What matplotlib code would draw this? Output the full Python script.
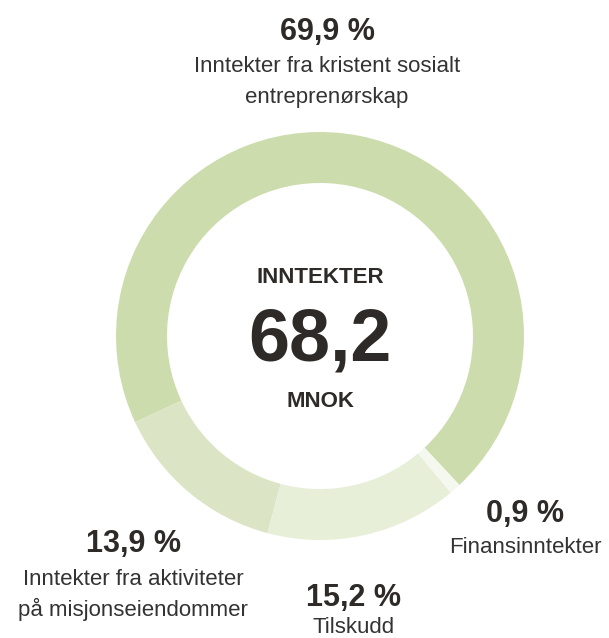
import matplotlib
matplotlib.use("Agg")
from matplotlib import pyplot as plt

# shares in percent, in the order they are drawn (counter clockwise)
shares = [69.9, 13.9, 15.2, 0.9]
share_text = ["69,9 %", "13,9 %", "15,2 %", "0,9 %"]
names = ["Inntekter fra kristent sosialt\nentreprenørskap",
         "Inntekter fra aktiviteter\npå misjonseiendommer",
         "Tilskudd",
         "Finansinntekter"]
colors = ["#cddcad", "#dbe5c5", "#e8efd9", "#f5f8ee"]

total_label = "INNTEKTER"
total_value = "68,2"
total_unit = "MNOK"

ink = "#2d2a27"
W, H = 609, 638

fig = plt.figure(figsize=(W / 100, H / 100), dpi=100)
ax = fig.add_axes([0, 0, 1, 1])

ax.pie(shares, colors=colors, startangle=-46.9, counterclock=True,
       center=(320, H - 336), radius=204,
       wedgeprops=dict(width=51, linewidth=0), frame=True)
ax.set_xlim(0, W)
ax.set_ylim(0, H)
ax.axis("off")

# centre text
ax.text(320, H - 283, total_label, ha="center", va="baseline",
        fontsize=16, fontweight="bold", color=ink, family="Liberation Sans")
ax.text(320, H - 360, total_value, ha="center", va="baseline",
        fontsize=53, fontweight="bold", color=ink, family="Liberation Sans")
ax.text(321, H - 407, total_unit, ha="center", va="baseline",
        fontsize=16, fontweight="bold", color=ink, family="Liberation Sans")

# labels: (x centre, baseline of the percent, baseline of first name line)
spots = [(327, 40, 72), (133, 552, 585), (354, 606, 633), (525, 522, 553)]
for (x, yp, yn), pct, name in zip(spots, share_text, names):
    ax.text(x, H - yp, pct, ha="center", va="baseline", fontsize=22,
            fontweight="bold", color=ink, family="Liberation Sans")
    for i, line in enumerate(name.split("\n")):
        ax.text(x, H - yn - 31 * i, line, ha="center", va="baseline",
                fontsize=16, color="#333333", family="Liberation Sans")

fig.savefig("out.png", dpi=100)
